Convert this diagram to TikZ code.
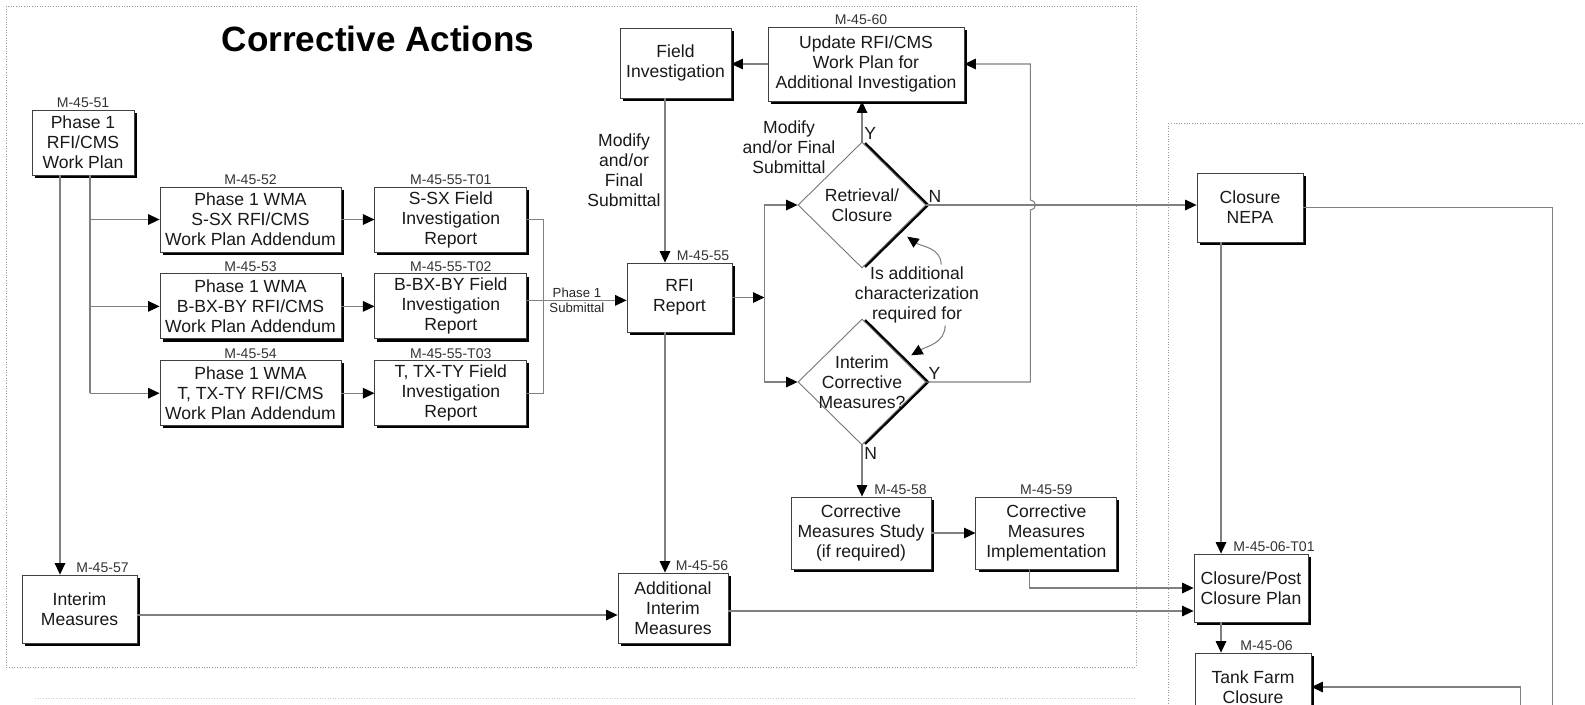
\documentclass[tikz,border=0pt]{standalone}
\usepackage{fontspec}
\setmainfont{Liberation Sans}
\usepackage{tikz}
\usetikzlibrary{shapes.geometric, arrows.meta, positioning, shadows}
\tikzstyle{box} = [rectangle, draw=black!75, line width=0.5pt, fill=white, align=center, inner sep=1.5pt, text=black!90, drop shadow={shadow xshift=1.5pt, shadow yshift=-1.5pt, fill=black, opacity=1}]
\tikzstyle{decision} = [diamond, draw=black!55, line width=0.5pt, fill=white, inner sep=0pt, minimum width=2.56cm, minimum height=2.52cm, drop shadow={shadow xshift=2.2pt, shadow yshift=0pt, fill=black, opacity=1}]
\tikzstyle{wire} = [draw=black!50, line width=0.6pt]
\tikzstyle{arrow} = [wire, -{Triangle[length=6.5pt, width=6pt, color=black]}]
\tikzstyle{tag} = [font=\fontsize{8}{9}\selectfont, text=black!80, inner sep=1pt]
\tikzstyle{mini} = [font=\fontsize{7.5}{8}\selectfont, text=black!85, inner sep=1pt]
\tikzstyle{note} = [align=center, text=black!90, inner sep=1pt]
\tikzstyle{yn} = [inner sep=1pt, text=black!90]
\tikzstyle{zone} = [draw=black!40, densely dotted, line width=0.5pt]

\begin{document}
\begin{tikzpicture}[x=0.02cm, y=-0.02cm, every node/.style={font=\fontsize{10}{11.4}\selectfont}]
        \useasboundingbox (0,0) rectangle (1585,704);
        \clip (0,0) rectangle (1585,704);
        \draw[zone] (6,6) rectangle (1136,667);
        \draw[zone] (1168,123) rectangle (1620,760);
        \draw[zone, draw=black!20] (35,698) -- (1136,698);
        \node[font=\fontsize{20}{24}\selectfont\bfseries] (0) at (378,39) {Corrective Actions};

        \node[box, minimum width=2.04cm, minimum height=1.3cm, label={[tag]above:M-45-51}] (1) at (83,142.5) {Phase 1\\RFI/CMS\\Work Plan};
        \node[box, minimum width=3.62cm, minimum height=1.3cm, label={[tag]above:M-45-52}] (2) at (250.5,219.5) {Phase 1 WMA\\S-SX RFI/CMS\\Work Plan Addendum};
        \node[box, minimum width=3.62cm, minimum height=1.3cm, below=0.42cm of 2, label={[tag]above:M-45-53}] (3) {Phase 1 WMA\\B-BX-BY RFI/CMS\\Work Plan Addendum};
        \node[box, minimum width=3.62cm, minimum height=1.3cm, below=0.42cm of 3, label={[tag]above:M-45-54}] (4) {Phase 1 WMA\\T, TX-TY RFI/CMS\\Work Plan Addendum};
        \node[box, minimum width=3.04cm, minimum height=1.3cm, right=0.66cm of 2, label={[tag]above:M-45-55-T01}] (5) {S-SX Field\\Investigation\\Report};
        \node[box, minimum width=3.04cm, minimum height=1.3cm, right=0.66cm of 3, label={[tag]above:M-45-55-T02}] (6) {B-BX-BY Field\\Investigation\\Report};
        \node[box, minimum width=3.04cm, minimum height=1.3cm, right=0.66cm of 4, label={[tag]above:M-45-55-T03}] (7) {T, TX-TY Field\\Investigation\\Report};
        \node[box, minimum width=2.1cm, minimum height=1.38cm, label={[tag, xshift=0.47cm]above:M-45-55}] (8) at (679.5,297.5) {RFI\\Report};
        \node[box, minimum width=2.22cm, minimum height=1.4cm] (9) at (675.5,63) {Field\\Investigation};
        \node[box, minimum width=3.92cm, minimum height=1.48cm, label={[tag, xshift=-0.1cm]above:M-45-60}] (10) at (866,64) {Update RFI/CMS\\Work Plan for\\Additional Investigation};
        \node[decision, label={[note]center:Retrieval/\\Closure}] (11) at (862,205) {};
        \node[decision, label={[note]center:Interim\\Corrective\\Measures?}] (12) at (862,382) {};
        \node[box, minimum width=2.8cm, minimum height=1.44cm, label={[tag, xshift=0.79cm]above:M-45-58}] (13) at (861,533) {Corrective\\Measures Study\\(if required)};
        \node[box, minimum width=2.82cm, minimum height=1.44cm, right=0.88cm of 13, label={[tag]above:M-45-59}] (14) {Corrective\\Measures\\Implementation};
        \node[box, minimum width=2.3cm, minimum height=1.36cm, label={[tag, xshift=0.46cm]above:M-45-57}] (15) at (79.5,609) {Interim\\Measures};
        \node[box, minimum width=2.2cm, minimum height=1.4cm, label={[tag, xshift=0.58cm]above:M-45-56}] (16) at (673,608) {Additional\\Interim\\Measures};
        \node[box, minimum width=2.12cm, minimum height=1.38cm] (17) at (1250,207.5) {Closure\\NEPA};
        \node[box, minimum width=2.28cm, minimum height=1.36cm, label={[tag, xshift=0.46cm]above:M-45-06-T01}] (18) at (1251,588) {Closure/Post\\Closure Plan};
        \node[box, minimum width=2.32cm, minimum height=1.36cm, label={[tag, xshift=0.27cm]above:M-45-06}] (19) at (1253,687) {Tank Farm\\Closure};
        \node[note] (20) at (917,295) {Is additional\\characterization\\required for};
        \node[note] (21) at (624,170) {Modify\\and/or\\Final\\Submittal};
        \node[note] (22) at (789,147) {Modify\\and/or Final\\Submittal};

        \coordinate (br) at ([xshift=0.14cm]1.south);
        \draw[wire] (br) -- (br |- 4.west);
        \foreach \n in {2,3,4} \draw[arrow] (br |- \n.west) -- (\n.west);
        \foreach \a/\b in {2/5,3/6,4/7} \draw[arrow] (\a) -- (\b);
        \draw[arrow] ([xshift=-0.46cm]1.south) -- ([xshift=-0.46cm]1.south |- 15.north);
        \coordinate (cj) at ([xshift=0.32cm]5.east);
        \draw[wire] (5.east) -- (cj) -- (cj |- 7.east) -- (7.east);
        \draw[arrow] ([yshift=0.12cm]6.east) -- node[above, mini]{Phase 1} node[below, mini]{Submittal} ([yshift=0.12cm]6.east -| 8.west);
        \coordinate (sp) at ([xshift=0.64cm]8.east);
        \draw[arrow] (8.east) -- (sp);
        \draw[wire] (sp |- 11.west) -- (sp |- 12.west);
        \draw[arrow] (sp |- 11.west) -- (11.west);
        \draw[arrow] (sp |- 12.west) -- (12.west);
        \draw[arrow] (10.west) -- (10.west -| 9.east);
        \coordinate (fx) at ([xshift=-0.21cm]9.south);
        \draw[arrow] (fx) -- (fx |- 8.north);
        \draw[arrow] (fx |- 8.south) -- (fx |- 16.north);
        \draw[arrow] (11.north) -- node[at start, above right, yn]{Y} (11.north |- 10.south);
        \draw[arrow] (11.east) -- node[at start, above right, yn]{N} (11.east -| 17.west);
        \coordinate (rt) at ([xshift=2.08cm]12.east);
        \draw[arrow] (12.east) -- node[at start, above right, yn]{Y} (rt) -- ([yshift=-0.1cm]rt |- 11.east) arc[start angle=-90, end angle=90, radius=0.1cm] -- (rt |- 10.east) -- (10.east);
        \draw[arrow] (12.south) -- node[at start, below right, yn]{N} (12.south |- 13.north);
        \draw[arrow] ([xshift=-0.8cm]20.north east) to[out=90, in=-35] ([xshift=0.26cm]11.south east);
        \draw[arrow] ([xshift=-0.72cm]20.south east) to[out=-90, in=30] ([xshift=0.34cm, yshift=-0.1cm]12.north east);
        \draw[arrow] (13) -- (14);
        \draw[arrow] ([xshift=-0.33cm]14.south) |- (18.west);
        \draw[arrow] ([yshift=-0.12cm]15.east) -- ([yshift=-0.12cm]15.east -| 16.west);
        \draw[arrow] ([yshift=-0.06cm]16.east) -- ([yshift=-0.06cm]16.east -| 18.west);
        \coordinate (nx) at ([xshift=-0.58cm]17.south);
        \draw[arrow] (nx) -- (nx |- 18.north);
        \draw[arrow] (nx |- 18.south) -- (nx |- 19.north);
        \coordinate (fr) at ([xshift=4.98cm]17.east);
        \draw[wire] (17.east) -- (fr) -- (fr |- 19.south);
        \coordinate (tb) at ([xshift=4.18cm]19.east);
        \draw[arrow] ([yshift=-1cm]tb) -- (tb) -- (19.east);
\end{tikzpicture}
\end{document}
